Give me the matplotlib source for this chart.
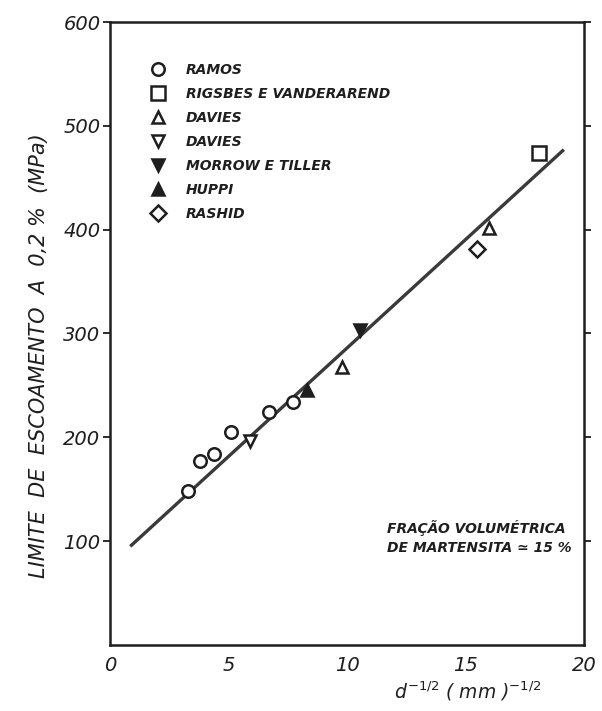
import matplotlib.pyplot as plt
from matplotlib.lines import Line2D

# data
ramos_x = [3.3, 3.8, 4.4, 5.1, 6.7, 7.7]
ramos_y = [148, 177, 184, 205, 224, 234]
rigsbes_x = [18.1]
rigsbes_y = [474]
davies_up_x = [9.8, 16.0]
davies_up_y = [268, 402]
davies_down_x = [5.9]
davies_down_y = [196]
morrow_x = [10.55]
morrow_y = [303]
huppi_x = [8.3]
huppi_y = [246]
rashid_x = [15.5]
rashid_y = [381]

fit_x = [0.9, 19.1]
fit_y = [96, 476]

x_ticks = [0, 5, 10, 15, 20]
y_ticks = [100, 200, 300, 400, 500, 600]

plt.rcParams['font.family'] = ['DejaVu Sans']

fig = plt.figure(figsize=(6.02, 7.11), dpi=100)
ax = fig.add_axes([0.183, 0.093, 0.787, 0.876])

ink = '#1e1e1e'
ax.plot(fit_x, fit_y, color='#3a3a3a', lw=2.4, zorder=2)

ms = 9
mew = 1.8
series = [
    (ramos_x, ramos_y, 'o', 'white', 'RAMOS'),
    (rigsbes_x, rigsbes_y, 's', 'white', 'RIGSBES E VANDERAREND'),
    (davies_up_x, davies_up_y, '^', 'white', 'DAVIES'),
    (davies_down_x, davies_down_y, 'v', 'white', 'DAVIES'),
    (morrow_x, morrow_y, 'v', ink, 'MORROW E TILLER'),
    (huppi_x, huppi_y, '^', ink, 'HUPPI'),
    (rashid_x, rashid_y, 'D', 'white', 'RASHID'),
]
handles = []
for xs, ys, mk, fc, lab in series:
    size = ms + 1 if mk == 's' else ms
    if mk == 'D':
        size = ms - 1
    ax.plot(xs, ys, ls='none', marker=mk, ms=size, mfc=fc, mec=ink,
            mew=mew, zorder=3)
    handles.append(Line2D([], [], ls='none', marker=mk, ms=size, mfc=fc,
                          mec=ink, mew=mew, label=lab))

leg = ax.legend(handles=handles, loc='upper left',
                bbox_to_anchor=(0.06, 0.943), frameon=False,
                labelspacing=0.72, handletextpad=1.0, borderaxespad=0,
                prop={'style': 'italic', 'weight': 'bold', 'size': 10})
for t in leg.get_texts():
    t.set_color(ink)

ax.text(0.585, 0.172, 'FRAÇÃO VOLUMÉTRICA\nDE MARTENSITA ≃ 15 %',
        transform=ax.transAxes, fontsize=10, style='italic',
        weight='bold', color=ink, linespacing=1.45, va='center')

ax.set_xlim(0, 20)
ax.set_ylim(0, 600)
ax.set_xticks(x_ticks)
ax.set_yticks(y_ticks)
ax.set_xticklabels([str(v) for v in x_ticks], fontsize=14, style='italic',
                   color=ink)
ax.set_yticklabels([str(v) for v in y_ticks], fontsize=14, style='italic',
                   color=ink)
ax.tick_params(axis='x', length=0, pad=8)
ax.tick_params(axis='y', direction='out', length=5, width=1.3, pad=2,
               right=True, color=ink)

for s in ax.spines.values():
    s.set_linewidth(1.8)
    s.set_color(ink)

ax.set_ylabel('LIMITE  DE  ESCOAMENTO  A  0,2 %  (MPa)', fontsize=15,
              style='italic', color=ink)
ax.yaxis.set_label_coords(-0.13, 0.465)
fig.text(0.655, 0.017, r'$d^{-1/2}$ ( mm )$^{-1/2}$', fontsize=13.5,
         style='italic', color=ink)

fig.savefig('out.png', dpi=100)
